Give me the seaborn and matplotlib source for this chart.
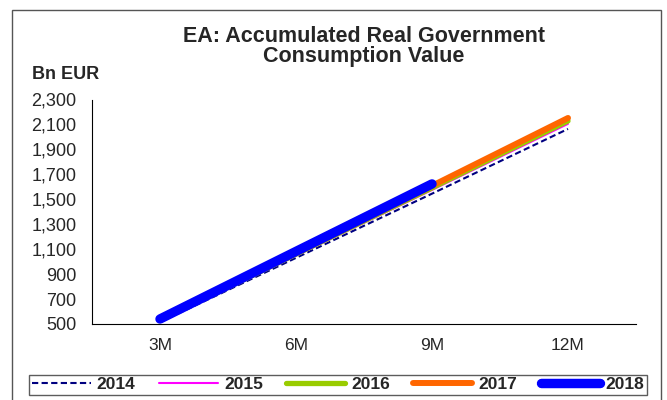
import matplotlib
matplotlib.use("Agg")
import matplotlib.pyplot as plt
import matplotlib.ticker as mticker
from matplotlib.patches import Rectangle
import pandas as pd
import seaborn as sns

# accumulated real government consumption, Bn EUR
periods = ["3M", "6M", "9M", "12M"]
y2014 = [515, 1030, 1545, 2064]
y2015 = [523, 1048, 1575, 2105]
y2016 = [528, 1060, 1592, 2128]
y2017 = [535, 1070, 1608, 2152]
y2018 = [540, 1082, 1623]

series = {"2014": y2014, "2015": y2015, "2016": y2016, "2017": y2017, "2018": y2018}
styles = {
    "2014": dict(color="#000080", lw=1.5, ls=(0, (3, 1.6))),
    "2015": dict(color="#FF00FF", lw=1.5, ls="-"),
    "2016": dict(color="#99CC00", lw=3.8, ls="-"),
    "2017": dict(color="#FF6600", lw=4.3, ls="-"),
    "2018": dict(color="#0000FF", lw=6.8, ls="-"),
}

rows = []
for year, vals in series.items():
    for i, v in enumerate(vals):
        rows.append({"pos": i + 1, "value": v, "year": year})
df = pd.DataFrame(rows)

sns.set_style("white")
plt.rcParams["font.family"] = ["Liberation Sans", "DejaVu Sans"]

fig = plt.figure(figsize=(6.67, 4.0), dpi=100)
ax = fig.add_axes([92 / 667, 1 - 324 / 400, 544 / 667, 224.5 / 400])

for year in series:
    st = styles[year]
    sns.lineplot(data=df[df["year"] == year], x="pos", y="value", ax=ax,
                 color=st["color"], linewidth=st["lw"], linestyle=st["ls"],
                 label=year, solid_capstyle="round", legend=False)

ax.set_xlim(0.5, 4.5)
ax.set_ylim(500, 2300)
ax.set_yticks(range(500, 2301, 200))
ax.yaxis.set_major_formatter(mticker.FuncFormatter(lambda v, p: f"{int(v):,}"))
ax.set_xticks([1, 2, 3, 4])
ax.set_xticklabels(periods)
ax.set_xticks([0.5, 1.5, 2.5, 3.5, 4.5], minor=True)
ax.tick_params(axis="x", which="major", length=0, pad=10, labelsize=12.5)
ax.tick_params(axis="x", which="minor", length=5, width=0.8, direction="out", color="black")
ax.tick_params(axis="y", length=5, width=0.8, direction="out", color="black", pad=6, labelsize=13)
ax.set_xlabel("")
ax.set_ylabel("")
sns.despine(ax=ax)
for s in ["left", "bottom"]:
    ax.spines[s].set_color("black")
    ax.spines[s].set_linewidth(0.8)

fig.text(364 / 667, 1 - 26 / 400, "EA: Accumulated Real Government\nConsumption Value",
         ha="center", va="top", fontsize=15.5, fontweight="bold", linespacing=0.95)
fig.text(32 / 667, 1 - 79 / 400, "Bn EUR", ha="left", va="baseline",
         fontsize=13, fontweight="bold")

handles, labels = ax.get_legend_handles_labels()
leg = fig.legend(handles, labels, ncol=5, loc="lower left",
                 bbox_to_anchor=(29 / 667, 1 - 395 / 400, 618 / 667, 26 / 400),
                 mode="expand", frameon=True, fancybox=False, handlelength=3.4,
                 handletextpad=0.35, columnspacing=0.6, borderpad=0.15,
                 borderaxespad=0, prop={"weight": "bold", "size": 12.5})
leg.get_frame().set_edgecolor("#333333")
leg.get_frame().set_linewidth(1.0)

fig.patches.append(Rectangle((12 / 667, -0.01), 649 / 667, 0.985, transform=fig.transFigure,
                             fill=False, edgecolor="#555555", linewidth=1.0))

fig.savefig("out.png", dpi=100)
